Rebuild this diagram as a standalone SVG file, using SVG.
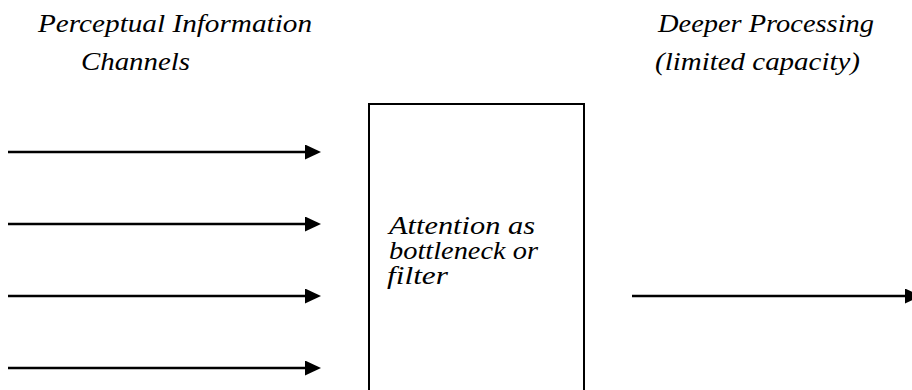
<svg xmlns="http://www.w3.org/2000/svg" width="912" height="390" viewBox="0 0 912 390">
<defs>
<marker id="ah" markerWidth="16" markerHeight="16" refX="0" refY="7.5" orient="auto" markerUnits="userSpaceOnUse">
<path d="M0,0 L16,7.5 L0,15 Z" fill="#000"/>
</marker>
<style>
.t{font-family:"Liberation Serif","Times New Roman",serif;font-style:italic;font-size:25px;fill:#000}
.c{stroke:#000;stroke-width:2.5;fill:none}
</style>
</defs>
<rect width="912" height="390" fill="#fff"/>
<g id="label-perceptual">
<text class="t" x="38" y="32" textLength="274" lengthAdjust="spacingAndGlyphs">Perceptual Information</text>
<text class="t" x="81" y="70" textLength="109" lengthAdjust="spacingAndGlyphs">Channels</text>
</g>
<g id="label-deeper">
<text class="t" x="658" y="32" textLength="216" lengthAdjust="spacingAndGlyphs">Deeper Processing</text>
<text class="t" x="655" y="70" textLength="205" lengthAdjust="spacingAndGlyphs">(limited capacity)</text>
</g>
<g id="attention">
<rect x="369" y="104" width="215" height="300" fill="none" stroke="#000" stroke-width="2"/>
<text class="t" x="389" y="234" textLength="146" lengthAdjust="spacingAndGlyphs">Attention as</text>
<text class="t" x="389" y="259" textLength="149" lengthAdjust="spacingAndGlyphs">bottleneck or</text>
<text class="t" x="387" y="284" textLength="61" lengthAdjust="spacingAndGlyphs">filter</text>
</g>
<g id="connectors">
<line class="c" x1="8" y1="152" x2="305" y2="152" marker-end="url(#ah)"/>
<line class="c" x1="8" y1="224" x2="305" y2="224" marker-end="url(#ah)"/>
<line class="c" x1="8" y1="296" x2="305" y2="296" marker-end="url(#ah)"/>
<line class="c" x1="8" y1="368" x2="305" y2="368" marker-end="url(#ah)"/>
<line class="c" x1="632" y1="296" x2="905" y2="296" marker-end="url(#ah)"/>
</g>
</svg>
